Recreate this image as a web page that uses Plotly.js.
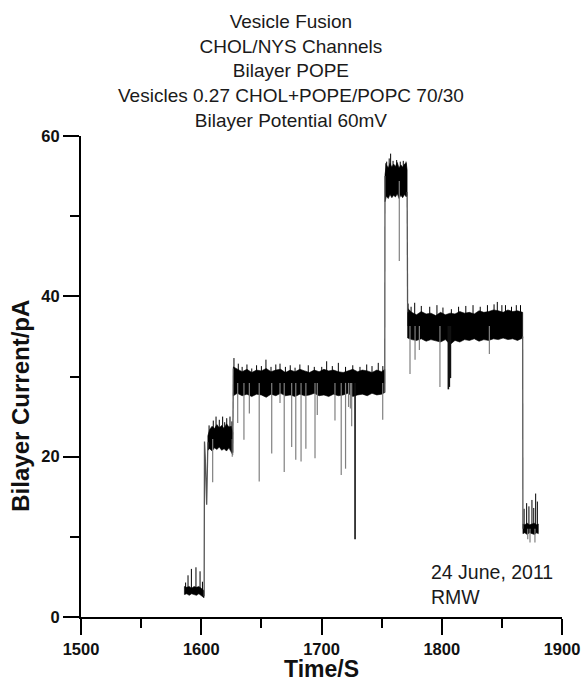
<!DOCTYPE html>
<html>
<head>
<meta charset="utf-8">
<script src="https://cdn.plot.ly/plotly-3.0.1.min.js"></script>
<style>html,body{margin:0;padding:0;background:#fff}#chart{width:582px;height:682px}</style>
</head>
<body>
<div id="chart"></div>
<script>
// ---- DATA ----
// Noise-band envelope of the current trace, one block per conductance level (null separates levels)
const envTime = [
  1586, 1588, 1590, 1592, 1594, 1596, 1598, 1600, 1602.3, null,
  1605.5, 1607, 1609, 1611, 1613, 1615, 1617, 1619, 1621, 1623, 1625, 1626.2, null,
  1626.7, 1630, 1634, 1638, 1642, 1646, 1650, 1654, 1658, 1662, 1666, 1670, 1674, 1678, 1682, 1686, 1690,
  1694, 1698, 1702, 1706, 1710, 1714, 1718, 1722, 1726, 1730, 1734, 1738, 1742, 1746, 1750, 1752.6, null,
  1752.8, 1754, 1755.5, 1757, 1758.5, 1760, 1761.5, 1763, 1764.5, 1766, 1767.5, 1769, 1770.5, 1771.2, null,
  1771.6, 1775, 1779, 1783, 1787, 1791, 1795, 1799, 1803, 1807, 1811, 1815, 1819, 1823, 1827, 1831, 1835,
  1839, 1843, 1847, 1851, 1855, 1859, 1863, 1867.3, null,
  1867.5, 1869, 1871, 1873, 1875, 1877, 1879, 1880.3
];
const envHigh = [
  3.8, 3.7, 3.8, 3.6, 3.8, 3.7, 3.8, 3.6, 3.3, null,
  22.6, 23.4, 23.8, 23.5, 24.0, 23.6, 23.9, 23.5, 24.1, 23.7, 23.8, 23.0, null,
  31.2, 30.9, 30.6, 30.9, 30.5, 30.8, 30.7, 31.0, 30.6, 30.8, 30.9, 30.5, 30.8, 30.6, 30.9, 30.7, 30.5,
  30.8, 30.6, 30.9, 30.7, 30.8, 30.6, 30.5, 30.7, 30.9, 30.6, 30.8, 30.7, 30.5, 30.8, 30.6, 30.9, null,
  55.2, 56.4, 56.0, 56.6, 56.1, 56.5, 56.2, 56.7, 56.0, 56.4, 56.1, 56.5, 56.6, 55.8, null,
  38.5, 38.0, 37.7, 38.1, 37.8, 37.9, 37.6, 38.0, 37.7, 37.9, 37.8, 38.1, 37.9, 38.0, 37.8, 38.2, 38.0,
  38.1, 38.3, 38.2, 38.0, 38.3, 38.1, 38.2, 38.0, null,
  11.6, 11.5, 11.7, 11.5, 11.6, 11.7, 11.5, 11.6
];
const envLow = [
  2.8, 2.9, 2.7, 2.9, 2.8, 2.7, 2.9, 2.7, 2.4, null,
  20.8, 21.0, 20.7, 21.1, 20.9, 21.2, 20.8, 21.0, 20.7, 21.1, 20.6, 20.2, null,
  27.6, 27.9, 27.6, 27.8, 27.5, 27.8, 27.7, 27.4, 27.8, 27.6, 27.9, 27.6, 27.7, 27.5, 27.8, 27.6, 27.7,
  27.9, 27.6, 27.7, 27.5, 27.8, 27.6, 27.7, 27.9, 27.5, 27.7, 27.8, 27.6, 27.9, 27.7, 27.8, 28.0, null,
  51.8, 52.5, 52.2, 52.7, 52.3, 52.6, 52.4, 52.8, 52.2, 52.6, 52.3, 52.7, 52.4, 52.6, null,
  34.8, 34.6, 34.5, 34.7, 34.4, 34.6, 34.5, 34.3, 34.6, 34.0, 34.5, 34.3, 34.6, 34.5, 34.7, 34.4, 34.6,
  34.5, 34.7, 34.6, 34.8, 34.6, 34.7, 34.5, 34.8, null,
  10.4, 10.5, 10.3, 10.5, 10.4, 10.3, 10.5, 10.4
];
// Mean current of each level (pA)
const levelMean = [3.3, 22.2, 29.2, 54.4, 36.3, 11.0];

// Steps between levels (null separates steps)
const stepTime = [1602.4, 1602.7, 1603.3, 1603.9, 1604.5, 1605.1, 1605.5, null,
                  1626.2, 1626.7, null, 1752.6, 1752.8, null, 1771.2, 1771.6, null, 1867.3, 1867.5];
const stepCurrent = [2.6, 21.9, 20.0, 15.5, 14.0, 18.5, 21.8, null,
                     20.5, 31.0, null, 28.0, 55.0, null, 53.0, 38.0, null, 35.0, 11.0];

// Upward noise spikes (time, peak current)
const upSpikeTime = [1587, 1589, 1591.8, 1595.6, 1599, 1601,
  1606.5, 1610, 1612.3, 1615, 1617.8, 1619.5, 1621.2, 1623.9, 1625.5,
  1627.2, 1630.8, 1634, 1638, 1642, 1646, 1650, 1653.8, 1658, 1662, 1665.5, 1670, 1674, 1678, 1682,
  1689, 1694, 1700.2, 1704.3, 1709, 1714, 1720, 1726, 1732, 1737.6, 1742, 1747.2, 1751,
  1753.5, 1754.2, 1756.3, 1757.5, 1759.5, 1762.5, 1765.5, 1768, 1770.3,
  1772, 1774.5, 1777.5, 1783, 1790, 1796, 1801, 1808, 1814, 1820, 1826, 1832, 1838, 1843.5, 1846.2,
  1850, 1853, 1858, 1862, 1865.5,
  1868.5, 1870.6, 1872.5, 1875, 1876.5, 1878.1, 1879.5];
const upSpikeCurrent = [4.3, 5.2, 6.0, 6.2, 5.7, 4.4,
  23.9, 24.5, 25.0, 24.6, 25.0, 24.3, 24.8, 25.0, 24.4,
  32.3, 31.6, 31.2, 31.5, 31.0, 31.4, 31.3, 32.1, 31.2, 31.5, 31.6, 31.2, 31.4, 31.1, 31.5,
  31.4, 31.2, 31.2, 31.9, 31.3, 31.7, 31.2, 31.4, 31.2, 31.5, 31.3, 31.7, 31.3,
  56.6, 56.8, 57.2, 57.8, 56.9, 57.0, 56.8, 56.9, 56.8,
  39.1, 38.7, 39.2, 38.8, 38.7, 38.9, 38.6, 38.4, 38.7, 38.8, 38.9, 38.7, 38.9, 39.0, 39.3,
  38.9, 38.9, 38.7, 38.9, 38.9,
  13.5, 14.2, 13.8, 14.6, 13.6, 15.4, 14.4];

// Downward closing events (time, lowest current)
const downSpikeTime = [1609.5, 1625.8,
  1630.3, 1635.5, 1640, 1648.2, 1658.6, 1665.5, 1669, 1675.2, 1678.6, 1683, 1687, 1694.6, 1696.5,
  1711.2, 1716.4, 1720, 1722.5, 1724, 1725.1, 1750.9,
  1764.7,
  1773.6, 1777.8, 1781.4, 1798.5, 1839.6,
  1871.5, 1873.4, 1877.5];
const downSpikeCurrent = [16.8, 20.0,
  24.2, 22.1, 25.4, 16.9, 20.4, 26.7, 18.1, 21.2, 19.6, 19.4, 21.0, 19.8, 25.2,
  24.5, 17.7, 18.5, 26.2, 26.0, 23.8, 24.6,
  44.4,
  30.3, 32.1, 33.3, 28.7, 32.8,
  9.7, 9.3, 9.3];

// Deep dark closing events
const deepSpikeTime = [1727.9, 1805.5, 1806.3, 1807.2];
const deepSpikeCurrent = [9.7, 28.4, 28.7, 29.8];

const xTickLabels = ['1500', '1600', '1700', '1800', '1900'];
const yTickLabels = ['0', '20', '40', '60'];

// ---- BUILD TRACES ----
const FONT = 'Liberation Sans, Arial, Helvetica, sans-serif';
const segStart = [], segEnd = [];
const traces = [];
let bt = [], bh = [], bl = [];
function flush() {
  if (!bt.length) return;
  segStart.push(bt[0]); segEnd.push(bt[bt.length - 1]);
  const x = bt.concat(bt.slice().reverse(), [bt[0]]);
  const y = bh.concat(bl.slice().reverse(), [bh[0]]);
  traces.push({x: x, y: y, type: 'scatter', mode: 'lines', fill: 'toself',
    fillcolor: '#000', line: {color: '#000', width: 0.6}, hoverinfo: 'skip', showlegend: false});
  bt = []; bh = []; bl = [];
}
for (let i = 0; i < envTime.length; i++) {
  if (envTime[i] === null) { flush(); continue; }
  bt.push(envTime[i]); bh.push(envHigh[i]); bl.push(envLow[i]);
}
flush();

function baseAt(t) {
  let best = 0, bd = Infinity;
  for (let s = 0; s < segStart.length; s++) {
    if (t >= segStart[s] && t <= segEnd[s]) return levelMean[s];
    const d = Math.min(Math.abs(t - segStart[s]), Math.abs(t - segEnd[s]));
    if (d < bd) { bd = d; best = s; }
  }
  return levelMean[best];
}
function spikes(ts, vs, color, width) {
  const x = [], y = [];
  ts.forEach((t, i) => { x.push(t, t, null); y.push(baseAt(t), vs[i], null); });
  return {x: x, y: y, type: 'scatter', mode: 'lines', line: {color: color, width: width},
    hoverinfo: 'skip', showlegend: false, connectgaps: false};
}
traces.push(spikes(upSpikeTime, upSpikeCurrent, '#000', 1));
traces.push(spikes(downSpikeTime, downSpikeCurrent, '#808080', 1.2));
traces.push(spikes(deepSpikeTime, deepSpikeCurrent, '#111', 1.6));
traces.push({x: stepTime, y: stepCurrent, type: 'scatter', mode: 'lines',
  line: {color: '#555', width: 1.3}, hoverinfo: 'skip', showlegend: false, connectgaps: false});

const axisCommon = {
  showline: true, linewidth: 2, linecolor: '#000', mirror: false,
  ticks: 'outside', ticklen: 16, tickwidth: 2, tickcolor: '#000',
  showgrid: false, zeroline: false,
  tickfont: {family: FONT, size: 16.5, color: '#111', weight: 700},
  tickmode: 'array'
};

const layout = {
  width: 582, height: 682,
  margin: {l: 81, r: 20, t: 136, b: 65},
  paper_bgcolor: '#fff', plot_bgcolor: '#fff',
  font: {family: FONT, color: '#111'},
  xaxis: Object.assign({}, axisCommon, {
    range: [1500, 1900],
    tickvals: xTickLabels.map(Number), ticktext: xTickLabels,
    minor: {tickmode: 'linear', tick0: 1500, dtick: 50, ticks: 'outside', ticklen: 9, tickwidth: 2, tickcolor: '#000', showgrid: false},
    title: {text: 'Time/S', font: {family: FONT, size: 23, color: '#111', weight: 700}, standoff: 4}
  }),
  yaxis: Object.assign({}, axisCommon, {
    range: [0, 60],
    tickvals: yTickLabels.map(Number), ticktext: yTickLabels,
    minor: {tickmode: 'linear', tick0: 0, dtick: 10, ticks: 'outside', ticklen: 9, tickwidth: 2, tickcolor: '#000', showgrid: false}
  }),
  annotations: [
    {
      // chart title (five lines), centred on the page
      text: 'Vesicle Fusion<br>CHOL/NYS Channels<br>Bilayer POPE<br>Vesicles 0.27 CHOL+POPE/POPC 70/30<br>Bilayer Potential 60mV',
      xref: 'paper', yref: 'paper', x: 0.4366, y: 1.264, xanchor: 'center', yanchor: 'top',
      align: 'center', showarrow: false,
      font: {family: FONT, size: 19, color: '#1a1a1a'}
    },
    {
      // y-axis title
      text: 'Bilayer Current/pA', textangle: -90,
      xref: 'paper', yref: 'paper', x: -0.125, y: 0.439, xanchor: 'center', yanchor: 'middle',
      showarrow: false, font: {family: FONT, size: 24, color: '#111', weight: 700}
    },
    {
      text: '24 June, 2011<br>RMW', xref: 'paper', yref: 'paper',
      x: 0.7235, y: 0.12, xanchor: 'left', yanchor: 'top', align: 'left', showarrow: false,
      font: {family: FONT, size: 19.5, color: '#1a1a1a'}
    }
  ],
  showlegend: false
};

Plotly.newPlot('chart', traces, layout, {displayModeBar: false, staticPlot: true});
</script>
</body>
</html>
